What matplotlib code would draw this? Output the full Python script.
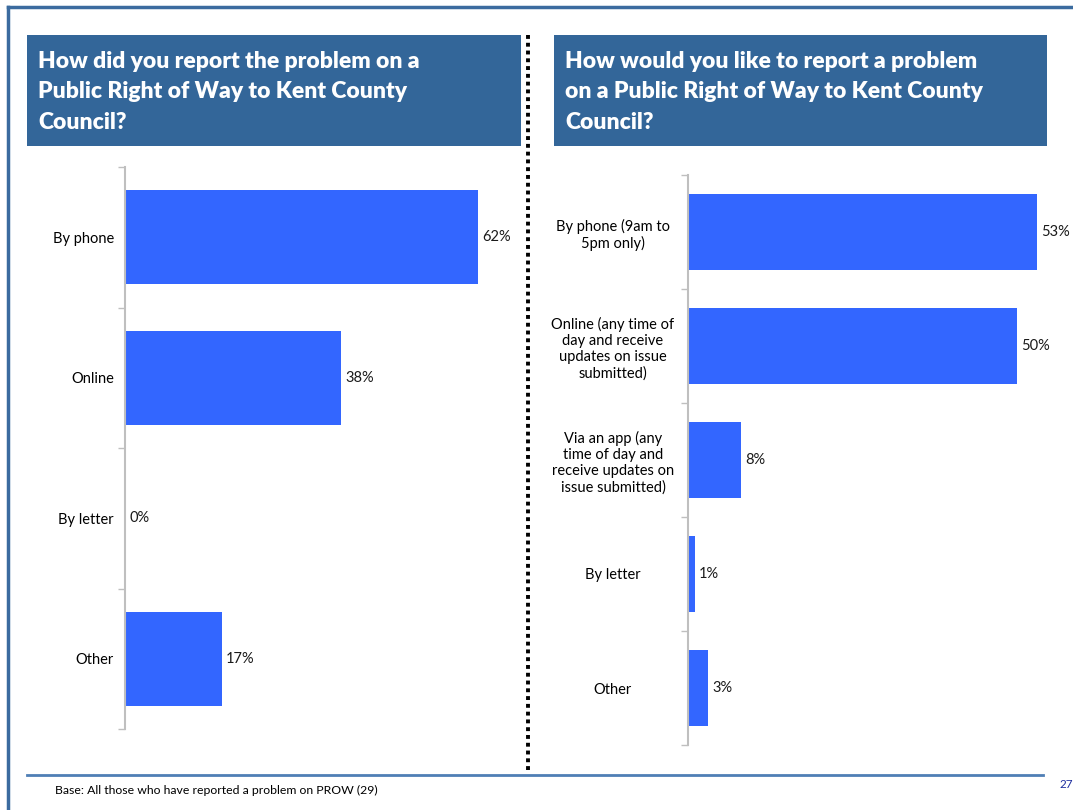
import matplotlib.pyplot as plt
from matplotlib.lines import Line2D
from matplotlib.patches import Rectangle

W, H = 1073, 810

left_title = 'How did you report the problem on a\nPublic Right of Way to Kent County\nCouncil?'
left_cats = ['By phone', 'Online', 'By letter', 'Other']
left_vals = [62, 38, 0, 17]

right_title = 'How would you like to report a problem\non a Public Right of Way to Kent County\nCouncil?'
right_cats = ['By phone (9am to\n5pm only)',
              'Online (any time of\nday and receive\nupdates on issue\nsubmitted)',
              'Via an app (any\ntime of day and\nreceive updates on\nissue submitted)',
              'By letter', 'Other']
right_vals = [53, 50, 8, 1, 3]

footnote = 'Base: All those who have reported a problem on PROW (29)'
page_no = '27'

BAR = '#3366FF'
BOX = '#336699'
AXIS = '#BFBFBF'
FONT = ['Lato', 'DejaVu Sans']

plt.rcParams['font.family'] = FONT


def px(x0, y0, x1, y1):
    # pixel box (top-left origin) -> figure fraction rect
    return [x0 / W, 1 - y1 / H, (x1 - x0) / W, (y1 - y0) / H]


def hbar(ax, cats, vals, xmax, pad):
    n = len(cats)
    pos = list(range(n))
    ax.barh(pos, vals, height=0.67, color=BAR)
    ax.set_xlim(0, xmax)
    ax.set_ylim(n - 0.5, -0.5)
    for s in ['top', 'right', 'bottom']:
        ax.spines[s].set_visible(False)
    ax.spines['left'].set_color(AXIS)
    ax.spines['left'].set_linewidth(1.5)
    ax.set_xticks([])
    ax.set_yticks(pos)
    ax.set_yticklabels(cats, fontsize=10.5, ha='center', multialignment='center')
    ax.tick_params(axis='y', which='major', length=0, pad=pad)
    ax.set_yticks([i - 0.5 for i in range(n + 1)], minor=True)
    ax.tick_params(axis='y', which='minor', length=5, color=AXIS, width=1)
    for p, v in zip(pos, vals):
        ax.annotate(f'{v}%', (v, p), xytext=(3, 0), textcoords='offset points',
                    va='center', ha='left', fontsize=10.5, color='#1a1a1a')


fig = plt.figure(figsize=(W / 100, H / 100), dpi=100)

# outer frame
fig.add_artist(Line2D([8 / W, 8 / W], [0, 1 - 7 / H], transform=fig.transFigure,
                      color='#3b6b9f', lw=2.5))
fig.add_artist(Line2D([8 / W, 1], [1 - 7 / H, 1 - 7 / H], transform=fig.transFigure,
                      color='#3b6b9f', lw=2.5))

# title boxes
for (x0, x1), title in [((27, 521), left_title), ((554, 1047), right_title)]:
    r = px(x0, 35, x1, 146)
    fig.add_artist(Rectangle((r[0], r[1]), r[2], r[3], transform=fig.transFigure,
                             color=BOX, lw=0))
    fig.text((x0 + 11) / W, 1 - 92 / H, title, color='white', fontsize=16.5,
             fontweight='heavy', va='center', ha='left', linespacing=1.55)

# dotted divider
fig.add_artist(Line2D([528 / W, 528 / W], [1 - 770 / H, 1 - 35 / H],
                      transform=fig.transFigure, color='black', lw=2.8,
                      linestyle=(0, (1, 1))))

ax1 = fig.add_axes(px(125, 167, 520, 729))
hbar(ax1, left_cats, left_vals, 69.4, 8)
for t in ax1.get_yticklabels():
    t.set_ha('right')

ax2 = fig.add_axes(px(688, 175, 1065, 745))
hbar(ax2, right_cats, right_vals, 57.25, 54)

# footer
fig.add_artist(Line2D([27 / W, 1043 / W], [1 - 775 / H, 1 - 775 / H],
                      transform=fig.transFigure, color='#4f7fb5', lw=2))
fig.text(55 / W, 1 - 790 / H, footnote, fontsize=8.8, va='center', ha='left')
fig.text(1059 / W, 1 - 784 / H, page_no, fontsize=8.5, va='center', ha='left',
         color='#1f2f9f')

fig.savefig('out.png', dpi=100)
